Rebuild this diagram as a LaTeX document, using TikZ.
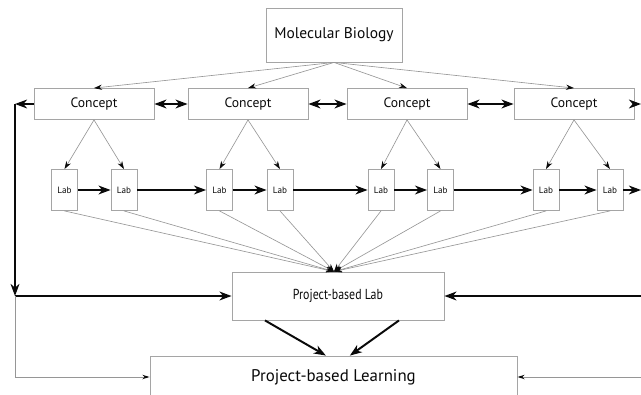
\documentclass[tikz,border=0pt]{standalone}
\usepackage{fontspec}
\setmainfont{PT Sans}
\newfontfamily\narrowfont[FakeStretch=0.82]{PT Sans}
\usetikzlibrary{arrows.meta}
\definecolor{frame}{RGB}{165,165,165}
\definecolor{wire}{RGB}{150,150,150}
\definecolor{ink}{RGB}{10,10,10}
\tikzset{
  box/.style={draw=frame,line width=0.6pt,align=center,inner sep=1pt,text=ink},
  concept/.style={box,minimum width=3cm,minimum height=7.75mm,font=\fontsize{9.7}{11}\selectfont},
  lab/.style={box,minimum width=6.5mm,minimum height=10.25mm,inner sep=0pt,font=\fontsize{6.5}{8}\selectfont},
  flow/.style={-{Stealth[length=3mm,width=2.2mm,inset=0.9mm]},line width=1.4pt,draw=ink},
  both/.style={{Stealth[length=3mm,width=2.2mm,inset=0.9mm]}-{Stealth[length=3mm,width=2.2mm,inset=0.9mm]},line width=1.4pt,draw=ink},
  link/.style={-{Stealth[length=2mm,width=1.3mm,color=ink]},draw=wire,line width=0.45pt},
  feed/.style={-{Stealth[length=1.8mm,width=1.1mm,color=ink]},draw=wire,line width=0.7pt},
}
\begin{document}
\begin{tikzpicture}[x=0.025cm,y=-0.025cm]
  \clip (0,0) rectangle (641,395);
  \node[box,minimum width=3.4cm,minimum height=1.35cm,font=\fontsize{11}{13}\selectfont] (mb) at (334,35) {Molecular Biology};
  % concepts
  \node[concept] (c1) at (94,104) {Concept};
  \node[concept] (c2) at (248,104) {Concept};
  \node[concept] (c3) at (407,104) {Concept};
  \node[concept] (c4) at (574,104) {Concept};
  % labs
  \foreach \x [count=\i] in {64.5,124,219.5,280,381,440.5,546,610}
    \node[lab] (l\i) at (\x,190) {Lab};
  \node[box,minimum width=5.3cm,minimum height=1.2cm,font=\narrowfont\fontsize{10.3}{12}\selectfont] (plab) at (338,296) {Project-based Lab};
  \node[box,minimum width=9.175cm,minimum height=1.05cm,font=\fontsize{12}{14}\selectfont] (plearn) at (333.5,377) {Project-based Learning};
  \coordinate (lt) at (15,104);
  \coordinate (lb) at (15,296);
  \coordinate (lbb) at (15,377);
  \coordinate (ct) at (641,104);
  \coordinate (lr) at (641,190);
  \coordinate (rt) at (641,296);
  \coordinate (rb) at (641,377);
  % top level
  \foreach \c in {c1,c2,c3,c4} \draw[link] (mb.south) -- (\c.north);
  \draw[link] (c1.south) -- (l1.north); \draw[link] (c1.south) -- (l2.north);
  \draw[link] (c2.south) -- (l3.north); \draw[link] (c2.south) -- (l4.north);
  \draw[link] (c3.south) -- (l5.north); \draw[link] (c3.south) -- (l6.north);
  \draw[link] (c4.south) -- (l7.north); \draw[link] (c4.south) -- (l8.north);
  \draw[both] (c1) -- (c2); \draw[both] (c2) -- (c3); \draw[both] (c3) -- (c4);
  \draw[flow] (c4) -- (ct);
  \foreach \i [evaluate=\i as \j using int(\i+1)] in {1,...,7} \draw[flow] (l\i) -- (l\j);
  \draw[flow] (l8) -- (lr);
  \foreach \i in {1,...,8} \draw[link] (l\i.south) -- ([xshift=-0.1cm]plab.north);
  % loops
  \draw[flow] (c1) -- (lt);
  \draw[flow] (lt) -- (lb);
  \draw[flow] (lb) -- (plab);
  \draw[flow] (rt) -- (plab);
  \draw[flow] ([xshift=-1.825cm]plab.south) -- ([xshift=-0.19cm]plearn.north);
  \draw[flow] ([xshift=1.525cm]plab.south) -- ([xshift=0.41cm]plearn.north);
  \draw[feed] (lb) -- (lbb) -- (plearn);
  \draw[feed] (rb) -- (plearn);
\end{tikzpicture}
\end{document}
